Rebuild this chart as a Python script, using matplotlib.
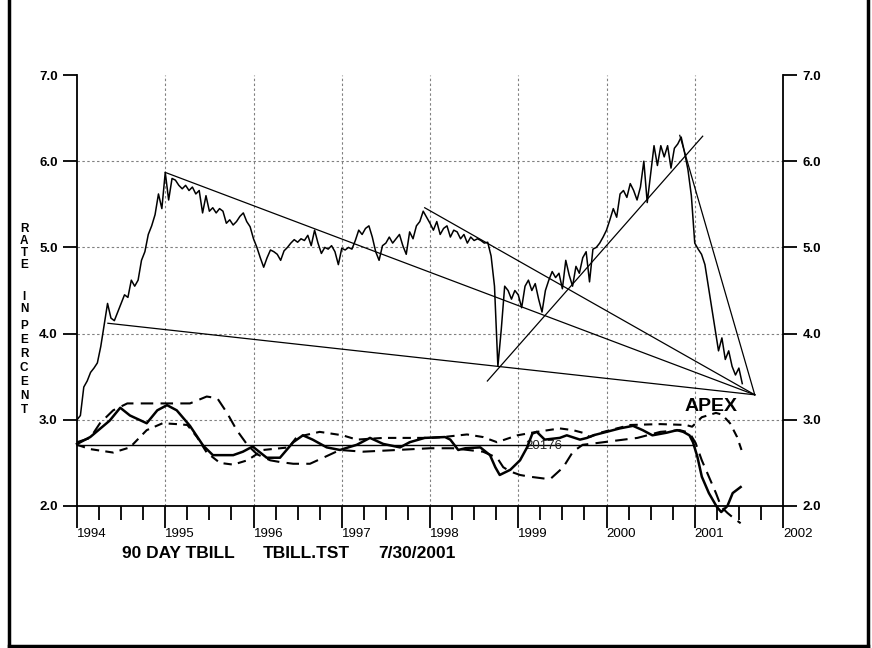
import numpy as np
import matplotlib
matplotlib.use("Agg")
import matplotlib.pyplot as plt
from matplotlib.lines import Line2D
from matplotlib.ticker import FixedLocator

plt.rcParams['font.family'] = ['Liberation Sans', 'DejaVu Sans']

# ---------------- data ----------------
# 90-day T-bill rate, roughly bi-weekly samples starting Jan 1994
rate_1994 = [3.00, 3.05, 3.38, 3.45, 3.55, 3.60, 3.66, 3.85, 4.10, 4.35, 4.18, 4.15, 4.25,
             4.35, 4.45, 4.42, 4.62, 4.55, 4.62, 4.85, 4.95, 5.15, 5.25, 5.38, 5.62, 5.45]
rate_1995 = [5.87, 5.55, 5.80, 5.78, 5.72, 5.68, 5.72, 5.66, 5.70, 5.62, 5.66, 5.40, 5.60,
             5.42, 5.46, 5.40, 5.45, 5.42, 5.28, 5.32, 5.26, 5.30, 5.36, 5.40, 5.30, 5.24]
rate_1996 = [5.10, 5.00, 4.88, 4.77, 4.88, 4.97, 4.95, 4.92, 4.85, 4.96, 5.00, 5.05, 5.09,
             5.06, 5.10, 5.08, 5.14, 5.02, 5.20, 5.05, 4.93, 5.00, 4.98, 5.02, 4.95, 4.80]
rate_1997 = [4.99, 4.97, 5.00, 4.98, 5.08, 5.20, 5.15, 5.22, 5.25, 5.12, 4.95, 4.85, 5.02,
             5.05, 5.12, 5.05, 5.10, 5.15, 5.02, 4.92, 5.18, 5.10, 5.25, 5.30, 5.42, 5.35]
rate_1998 = [5.28, 5.20, 5.30, 5.15, 5.22, 5.25, 5.12, 5.20, 5.18, 5.10, 5.15, 5.05, 5.12,
             5.08, 5.10, 5.08, 5.05, 5.06, 4.90, 4.55, 3.62, 4.05, 4.55, 4.50, 4.40, 4.50]
rate_1999 = [4.45, 4.30, 4.55, 4.62, 4.50, 4.58, 4.40, 4.25, 4.50, 4.62, 4.72, 4.65, 4.70,
             4.52, 4.85, 4.68, 4.55, 4.78, 4.70, 4.88, 4.95, 4.60, 4.98, 5.00, 5.05, 5.12]
rate_2000 = [5.20, 5.32, 5.45, 5.35, 5.62, 5.66, 5.58, 5.74, 5.66, 5.55, 5.70, 6.00, 5.52,
             5.85, 6.18, 5.95, 6.18, 6.05, 6.18, 5.92, 6.15, 6.20, 6.28, 6.10, 5.90, 5.60]
rate_2001 = [5.05, 4.98, 4.92, 4.80, 4.55, 4.30, 4.05, 3.80, 3.95, 3.70, 3.80, 3.62, 3.52,
             3.60, 3.42]
rates = rate_1994 + rate_1995 + rate_1996 + rate_1997 + rate_1998 + rate_1999 + rate_2000 + rate_2001
samples_per_year = 26
dates = 1994.0 + np.arange(len(rates)) / samples_per_year

# trend lines: (start date, start value, end date, end value)
apex_date, apex_value = 2001.68, 3.29
trend_lines = [
    (1994.35, 4.12, apex_date, apex_value),
    (1995.00, 5.87, apex_date, apex_value),
    (1997.94, 5.46, apex_date, apex_value),
    (2000.83, 6.30, apex_date, apex_value),
    (1998.65, 3.45, 2001.09, 6.29),
]

# oscillator lines
osc_solid_dates = [1994.00, 1994.15, 1994.37, 1994.49, 1994.60, 1994.79, 1994.91, 1995.02, 1995.13,
                   1995.28, 1995.43, 1995.54, 1995.77, 1995.88, 1995.99, 1996.15, 1996.30, 1996.45,
                   1996.56, 1996.67, 1996.83, 1996.98, 1997.17, 1997.32, 1997.47, 1997.66, 1997.77,
                   1997.94, 1998.17, 1998.23, 1998.32, 1998.40, 1998.57, 1998.68, 1998.74, 1998.79,
                   1998.91, 1999.02, 1999.10, 1999.16, 1999.21, 1999.30, 1999.47, 1999.55, 1999.70,
                   1999.78, 1999.85, 2000.00, 2000.15, 2000.30, 2000.41, 2000.52, 2000.68, 2000.80,
                   2000.87, 2000.94, 2000.98, 2001.03, 2001.08, 2001.16, 2001.25, 2001.30, 2001.37,
                   2001.43, 2001.52]
osc_solid = [2.72, 2.80, 2.99, 3.14, 3.05, 2.96, 3.11, 3.17, 3.11,
             2.93, 2.70, 2.59, 2.59, 2.63, 2.69, 2.56, 2.56, 2.74,
             2.82, 2.77, 2.68, 2.65, 2.71, 2.79, 2.72, 2.68, 2.74,
             2.79, 2.80, 2.77, 2.65, 2.67, 2.68, 2.59, 2.45, 2.36,
             2.42, 2.53, 2.68, 2.84, 2.86, 2.77, 2.79, 2.82, 2.77,
             2.79, 2.82, 2.86, 2.90, 2.93, 2.88, 2.82, 2.85, 2.88,
             2.86, 2.82, 2.74, 2.57, 2.34, 2.15, 1.99, 1.93, 2.00,
             2.15, 2.22]

osc_long_dates = [1994.00, 1994.15, 1994.26, 1994.41, 1994.57, 1994.97, 1995.28, 1995.47, 1995.59,
                  1995.70, 1995.81, 1995.93, 1996.04, 1996.19, 1996.30, 1996.45, 1996.64, 1996.79,
                  1996.98, 1997.24, 1997.63, 1998.00, 1998.26, 1998.60, 1998.76, 1998.83, 1998.91,
                  1999.02, 1999.13, 1999.36, 1999.51, 1999.62, 1999.73, 1999.89, 2000.04, 2000.35,
                  2000.61, 2000.83, 2000.94, 2001.01, 2001.08, 2001.16, 2001.24, 2001.30, 2001.37,
                  2001.44, 2001.52]
osc_long = [2.74, 2.79, 2.96, 3.11, 3.19, 3.19, 3.19, 3.27, 3.25,
            3.08, 2.88, 2.71, 2.60, 2.53, 2.51, 2.49, 2.49, 2.56,
            2.65, 2.63, 2.65, 2.67, 2.67, 2.63, 2.56, 2.45, 2.40,
            2.36, 2.34, 2.31, 2.45, 2.63, 2.71, 2.73, 2.75, 2.79,
            2.86, 2.88, 2.85, 2.73, 2.53, 2.34, 2.15, 1.99, 1.92,
            1.86, 1.80]

osc_short_dates = [1994.00, 1994.15, 1994.41, 1994.60, 1994.79, 1994.97, 1995.13, 1995.25, 1995.36,
                   1995.47, 1995.62, 1995.77, 1995.93, 1995.99, 1996.11, 1996.40, 1996.49, 1996.75,
                   1997.01, 1997.17, 1997.47, 1998.00, 1998.15, 1998.42, 1998.60, 1998.76, 1998.99,
                   1999.21, 1999.47, 1999.62, 1999.73, 1999.81, 1999.93, 2000.04, 2000.27, 2000.61,
                   2000.90, 2000.97, 2001.08, 2001.24, 2001.31, 2001.40, 2001.48, 2001.53]
osc_short = [2.71, 2.66, 2.62, 2.68, 2.88, 2.96, 2.95, 2.94, 2.80,
             2.62, 2.50, 2.48, 2.53, 2.57, 2.65, 2.68, 2.80, 2.86,
             2.82, 2.77, 2.79, 2.79, 2.80, 2.83, 2.80, 2.74, 2.82,
             2.86, 2.90, 2.88, 2.85, 2.80, 2.85, 2.88, 2.94, 2.95,
             2.94, 2.92, 3.03, 3.08, 3.06, 2.96, 2.80, 2.65]

base_level = 2.71
base_end = 2000.98

x_years = list(range(1994, 2003))
y_ticks = [2.0, 3.0, 4.0, 5.0, 6.0, 7.0]
y_labels = ["2.0", "3.0", "4.0", "5.0", "6.0", "7.0"]

# ---------------- figure ----------------
W, H = 872, 648
fig = plt.figure(figsize=(W / 100, H / 100), dpi=100)
fig.patch.set_facecolor("white")
ax = fig.add_axes([77 / W, 1 - 506 / H, (783 - 77) / W, (506 - 75) / H])
ax.set_xlim(1994, 2002)
ax.set_ylim(2.0, 7.0)

# grid
for yv in [3.0, 4.0, 5.0, 6.0]:
    ax.axhline(yv, color="#808080", lw=0.8, ls=(0, (2.2, 2.2)), zorder=1)
for xv in range(1995, 2002):
    ax.axvline(xv, color="#808080", lw=0.8, ls=(0, (2.2, 2.2)), zorder=1)

# main series
ax.plot(dates, rates, color="black", lw=1.1, zorder=3)

# trend lines
for (d0, v0, d1, v1) in trend_lines:
    ax.plot([d0, d1], [v0, v1], color="black", lw=0.9, zorder=3, clip_on=False)

# oscillators
ax.plot(osc_solid_dates, osc_solid, color="black", lw=1.8, zorder=4, clip_on=False)
ax.plot(osc_long_dates, osc_long, color="black", lw=1.5, ls=(0, (6, 3.5)), zorder=4, clip_on=False)
ax.plot(osc_short_dates, osc_short, color="black", lw=1.5, ls=(0, (4, 3)), zorder=4, clip_on=False)
ax.plot([1994.0, base_end], [base_level, base_level], color="black", lw=1.0, zorder=3)

# annotations
ax.text(2000.88, 3.15, "APEX", fontsize=14, fontweight="bold", ha="left", va="center")
ax.text(1999.08, 2.70, "20176", fontsize=9.5, ha="left", va="center", color="#222222")

# spines & ticks
ax.spines["top"].set_visible(False)
for s in ["left", "right", "bottom"]:
    ax.spines[s].set_linewidth(1.3)
ax.yaxis.set_ticks_position("both")
ax.set_yticks(y_ticks)
ax.set_yticklabels(y_labels)
ax.tick_params(axis="y", which="major", direction="out", length=10, width=1.3,
               labelsize=9.5, pad=4, left=True, right=True, labelleft=True, labelright=True)
for lab in ax.get_yticklabels():
    lab.set_fontweight("bold")

ax.set_xticks(x_years)
ax.set_xticklabels([str(y) for y in x_years])
ax.xaxis.set_minor_locator(FixedLocator([y + q for y in range(1994, 2002) for q in (0.25, 0.5, 0.75)]))
ax.tick_params(axis="x", which="major", direction="out", length=16, width=1.3, labelsize=9.5, pad=0)
ax.tick_params(axis="x", which="minor", direction="out", length=10, width=1.3)
for lab in ax.get_xticklabels():
    lab.set_ha("left")

# stacked y-label
letters = list("RATE") + [""] + list("IN") + [""] + list("PERCENT")
ypos = [229, 241, 253, 265, None, 297, 309, None, 326, 340, 354, 368, 382, 396, 410]
for ch, yp in zip(letters, ypos):
    if ch and yp is not None:
        fig.text(24 / W, 1 - yp / H, ch, fontsize=8.5, fontweight="bold", ha="center", va="center")

# bottom title
fig.text(122 / W, 1 - 553 / H, "90 DAY TBILL", fontsize=12.5, fontweight="bold", ha="left", va="center")
fig.text(263 / W, 1 - 553 / H, "TBILL.TST", fontsize=12.5, fontweight="bold", ha="left", va="center")
fig.text(378 / W, 1 - 553 / H, "7/30/2001", fontsize=12.5, fontweight="bold", ha="left", va="center")

# outer frame (left, right, bottom)
for xs, ys in [([9, 9], [0, 646]), ([868, 868], [0, 646]), ([9, 868], [646, 646])]:
    fig.lines.append(Line2D([x / W for x in xs], [1 - y / H for y in ys], transform=fig.transFigure,
                            color="black", lw=2.5))

fig.savefig("out.png", dpi=100, facecolor="white")
